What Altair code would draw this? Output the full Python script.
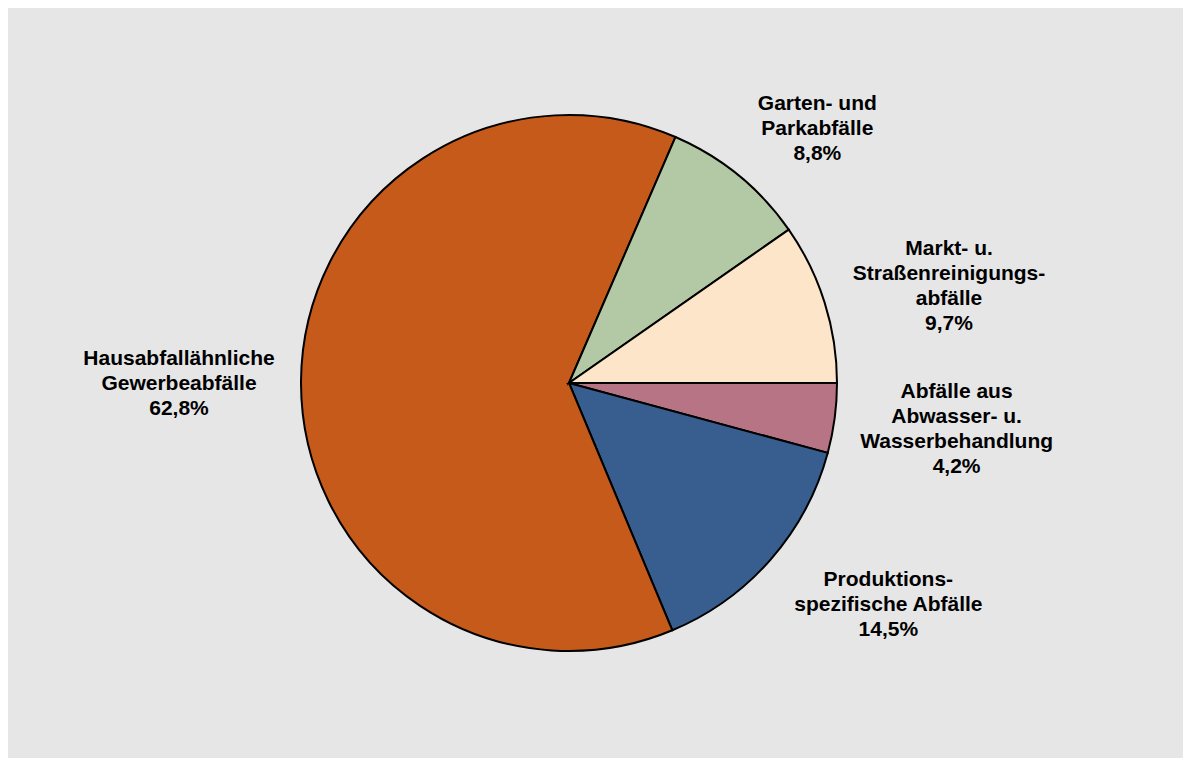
import math
import altair as alt
import pandas as pd

# Data (clockwise from 3 o'clock)
categories = [
    "Abfälle aus Abwasser- u. Wasserbehandlung",
    "Produktionsspezifische Abfälle",
    "Hausabfallähnliche Gewerbeabfälle",
    "Garten- und Parkabfälle",
    "Markt- u. Straßenreinigungsabfälle",
]
values = [4.2, 14.5, 62.8, 8.8, 9.7]
labels = [
    "Abfälle aus\nAbwasser- u.\nWasserbehandlung\n4,2%",
    "Produktions-\nspezifische Abfälle\n14,5%",
    "Hausabfallähnliche\nGewerbeabfälle\n62,8%",
    "Garten- und\nParkabfälle\n8,8%",
    "Markt- u.\nStraßenreinigungs-\nabfälle\n9,7%",
]
colors = ["#b77484", "#375e8f", "#c55a1a", "#b3c9a5", "#fce5c8"]

df = pd.DataFrame({
    "category": categories,
    "value": values,
    "label": labels,
    "idx": list(range(len(categories))),
})

LINE_H = 25
# label styling: (radius, dx, dy) -- dy is for the centre of the text block
label_style = {
    categories[0]: (390, 1, -5),
    categories[1]: (390, 26, -35),
    categories[2]: (390, 0, 3),
    categories[3]: (342, 32, 11),
    categories[4]: (390, 8, 21),
}

theta_range = [math.pi / 2, math.pi / 2 + 2 * math.pi]

base = alt.Chart(df)

arcs = base.mark_arc(stroke="black", strokeWidth=2, outerRadius=268).encode(
    theta=alt.Theta("value:Q", stack=True,
                    scale=alt.Scale(domain=[0, 100], range=theta_range)),
    order=alt.Order("idx:Q", sort="ascending"),
    color=alt.Color("category:N", sort=categories,
                    scale=alt.Scale(domain=categories, range=colors),
                    legend=None),
)

layers = [arcs]
for cat, lab in zip(categories, labels):
    r, dx, dy = label_style[cat]
    n_lines = lab.count("\n") + 1
    dy_block = dy - (n_lines - 1) * LINE_H / 2
    t = (
        base.transform_window(cum="sum(value)", sort=[alt.SortField("idx", order="ascending")])
        .transform_calculate(mid="datum.cum - datum.value / 2")
        .transform_filter(alt.datum.category == cat)
        .mark_text(
            font="Liberation Sans", fontWeight="bold", fontSize=21,
            lineBreak="\n", lineHeight=LINE_H, align="center", baseline="middle",
            color="black", dx=dx, dy=dy_block,
        )
        .encode(
            theta=alt.Theta("mid:Q", stack=False,
                            scale=alt.Scale(domain=[0, 100], range=theta_range)),
            radius=alt.value(r),
            text="label:N",
        )
    )
    layers.append(t)

chart = (
    alt.layer(*layers)
    .properties(
        width=1175, height=750,
        background="#e6e6e6",
        padding={"left": 0, "top": 0, "right": 53, "bottom": 0},
        autosize=alt.AutoSizeParams(type="fit", contains="padding"),
    )
    .configure_view(strokeWidth=0)
)

chart.save("out.html", embed_options={"renderer": "svg", "actions": False})
